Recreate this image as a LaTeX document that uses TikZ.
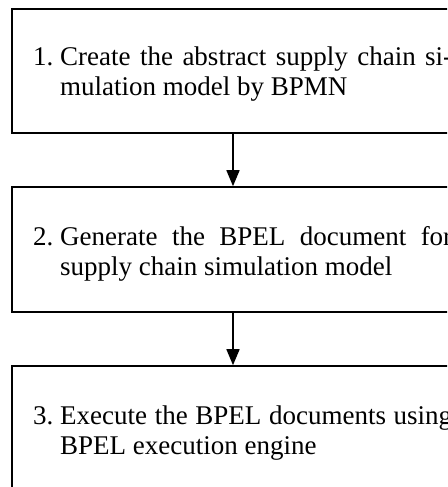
\documentclass[tikz,border=0pt]{standalone}
\usepackage{fontspec}
\setmainfont{Liberation Serif}
\usetikzlibrary{arrows.meta}
\tikzset{
  box/.style={draw=black, line width=1.6pt, rectangle, inner sep=0pt, minimum width=458pt},
  flow/.style={draw=black, line width=1.6pt, -{Triangle[width=13pt,length=16pt]}},
  steptext/.style={anchor=base west, inner sep=0pt,
    font=\fontsize{27pt}{30pt}\selectfont}
}
\newcommand{\steplabel}[2]{\parbox[t]{419pt}{\hangindent=27pt\hangafter=1\noindent\makebox[27pt][l]{#1}#2\par}}
\begin{document}
\begin{tikzpicture}[x=1pt,y=-1pt]
\useasboundingbox (0,0) rectangle (447,487);
\clip (0,0) rectangle (447,487);
\fill[white] (0,0) rectangle (447,487);
\node[box, minimum height=124pt] (b1) at (241,71) {};
\node[box, minimum height=125pt] (b2) at (241,249.5) {};
\node[box, minimum height=174pt] (b3) at (241,453) {};
\coordinate (ax) at (233,0);
\draw[flow] (b1.south -| ax) -- (b2.north -| ax);
\draw[flow] (b2.south -| ax) -- (b3.north -| ax);
\node[steptext] (t1) at (33,66) {\steplabel{1.}{Create the abstract supply chain si-\linebreak mulation model by BPMN}};
\node[steptext] (t2) at (33,245) {\steplabel{2.}{Generate the BPEL document for\linebreak supply chain simulation model}};
\node[steptext] (t3) at (33,424) {\steplabel{3.}{Execute the BPEL documents using\linebreak BPEL execution engine}};
\end{tikzpicture}
\end{document}
